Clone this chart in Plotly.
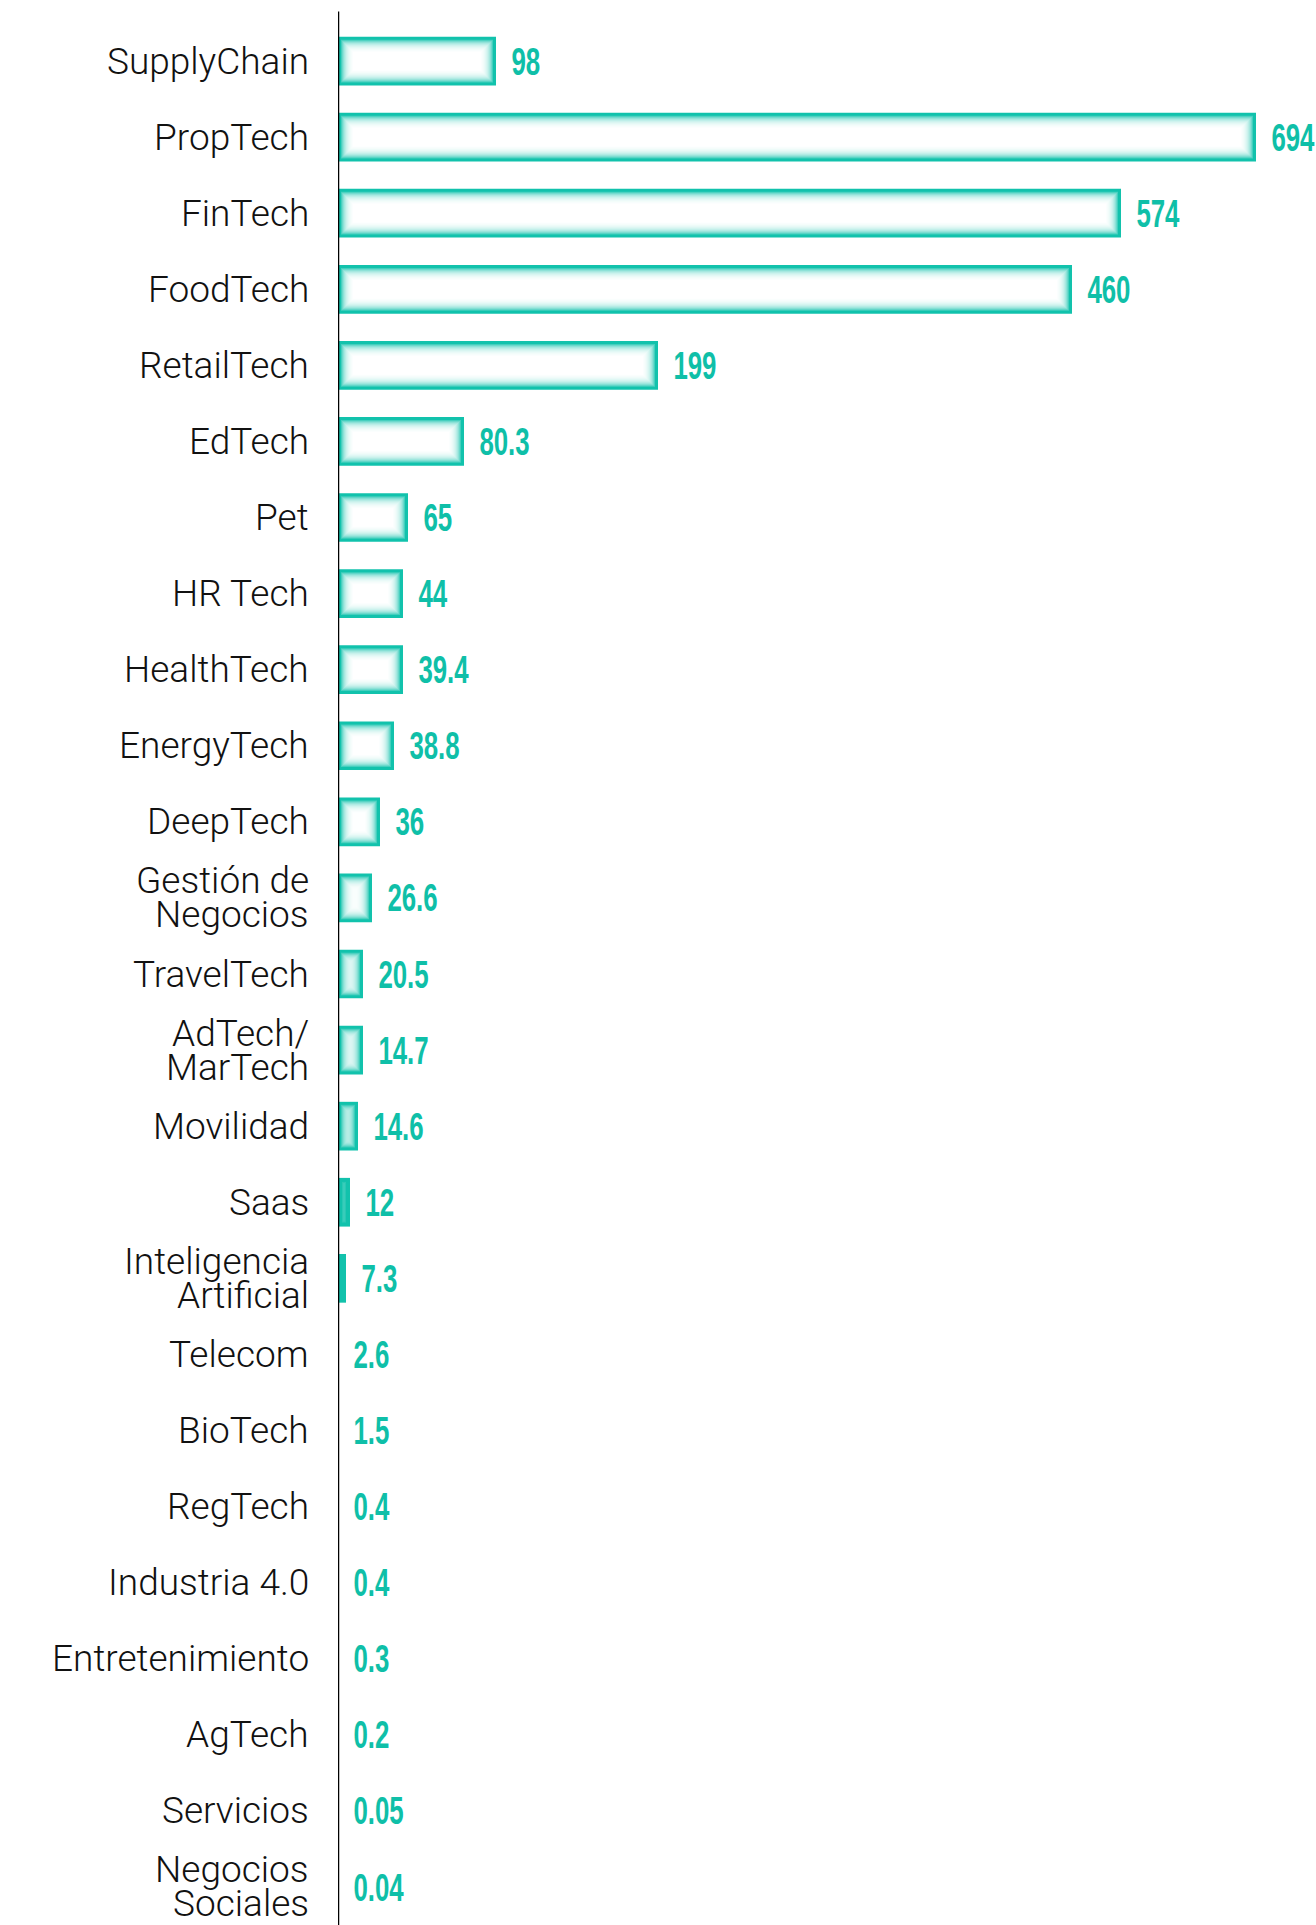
import math

import plotly.graph_objects as go

# categories, top to bottom
categories = [
    'SupplyChain', 'PropTech', 'FinTech', 'FoodTech', 'RetailTech', 'EdTech',
    'Pet', 'HR Tech', 'HealthTech', 'EnergyTech', 'DeepTech',
    'Gestión de<br>Negocios', 'TravelTech', 'AdTech/<br>MarTech', 'Movilidad',
    'Saas', 'Inteligencia<br>Artificial', 'Telecom', 'BioTech', 'RegTech',
    'Industria 4.0', 'Entretenimiento', 'AgTech', 'Servicios',
    'Negocios<br>Sociales',
]

# printed values next to each bar
values = [98, 694, 574, 460, 199, 80.3, 65, 44, 39.4, 38.8, 36, 26.6, 20.5,
          14.7, 14.6, 12, 7.3, 2.6, 1.5, 0.4, 0.4, 0.3, 0.2, 0.05, 0.04]

# bar lengths as drawn in the original (not to scale with the printed values)
bar_length = [158, 918, 783, 734, 320, 126, 70, 65, 65, 56, 42, 34, 25,
              25, 20, 12, 8, 0, 0, 0, 0, 0, 0, 0, 0]

TEAL = (18, 194, 172)
TEXT_TEAL = '#0FBFA8'
BAR_W = 0.64
ROW_PX = 76.08
BAR_PX = BAR_W * ROW_PX
N_LAYERS = 16


def mix(c, t):
    # t=0 -> teal, t=1 -> white
    return 'rgb({},{},{})'.format(*[round(v + (255 - v) * t) for v in c])


def edge_glow(d):
    # how much teal is left at d pixels in from an edge
    if d < 2:
        return 1.0
    return math.exp(-(d - 2) / 4.5)


FLOOR = edge_glow(N_LAYERS - 1)

fig = go.Figure()

# soft inner-glow bars: stacked layers, each inset by one pixel;
# narrow bars get teal from both sides, like a blurred frame
for i in range(N_LAYERS):
    xs, bases, colors = [], [], []
    for L in bar_length:
        inner = L - 2 * i
        xs.append(inner if inner > 0 else None)
        bases.append(i)
        span = min(L, BAR_PX)
        teal = min(1.0, edge_glow(i) + edge_glow(max(span - i, 0)))
        teal = max(0.0, teal - FLOOR) / (1 - FLOOR)
        colors.append(mix(TEAL, 1 - teal))
    fig.add_trace(go.Bar(
        y=categories, x=xs, base=bases, orientation='h',
        width=BAR_W - 2 * i / ROW_PX,
        marker=dict(color=colors, line=dict(width=0)),
        hoverinfo='skip', showlegend=False,
    ))

# value labels (invisible marker only pushes the text off the bar end)
fig.add_trace(go.Scatter(
    x=bar_length, y=categories, mode='markers+text',
    text=['{:g}'.format(v) for v in values], textposition='middle right',
    marker=dict(size=23, opacity=0),
    textfont=dict(family='Liberation Sans, Arial, sans-serif', size=38,
                  color=TEXT_TEAL, weight='bold'),
    cliponaxis=False, hoverinfo='skip', showlegend=False,
))

# category labels, right aligned left of the axis, tight line spacing
for cat in categories:
    lines = cat.split('<br>')
    for k, line in enumerate(lines):
        fig.add_annotation(
            xref='paper', x=0, y=cat, text=line, showarrow=False,
            xanchor='right', yanchor='middle', xshift=-27,
            yshift=(len(lines) - 1) * 17 - k * 34,
            font=dict(family='Roboto, Liberation Sans, sans-serif', size=37,
                      color='#111111', weight=300),
        )

# vertical axis line, slightly above the first row
fig.add_shape(type='line', xref='x', yref='paper', x0=0, x1=0, y0=0, y1=1.006,
              line=dict(color='#000000', width=2.5))

fig.update_layout(
    width=1316, height=1925,
    margin=dict(l=338, r=0, t=23, b=0, autoexpand=False),
    barmode='overlay',
    paper_bgcolor='white', plot_bgcolor='white',
    xaxis=dict(range=[0, 978], visible=False, fixedrange=True),
    yaxis=dict(range=[len(categories) - 0.5, -0.5], showgrid=False,
               zeroline=False, showline=False, showticklabels=False,
               automargin=False, fixedrange=True),
)

# no page margin; squeeze the bold digits into a condensed look and
# centre them on the bar
post = """
document.body.style.margin = '0';
var gd = document.getElementById('{plot_id}');
gd.querySelectorAll('.textpoint text').forEach(function (t) {
    var w = t.getComputedTextLength();
    t.setAttribute('textLength', (w * 0.68).toFixed(1));
    t.setAttribute('lengthAdjust', 'spacingAndGlyphs');
    t.setAttribute('y', (parseFloat(t.getAttribute('y')) + 4).toFixed(1));
});
"""

fig.write_html('out.html', post_script=post, config={'displayModeBar': False})
